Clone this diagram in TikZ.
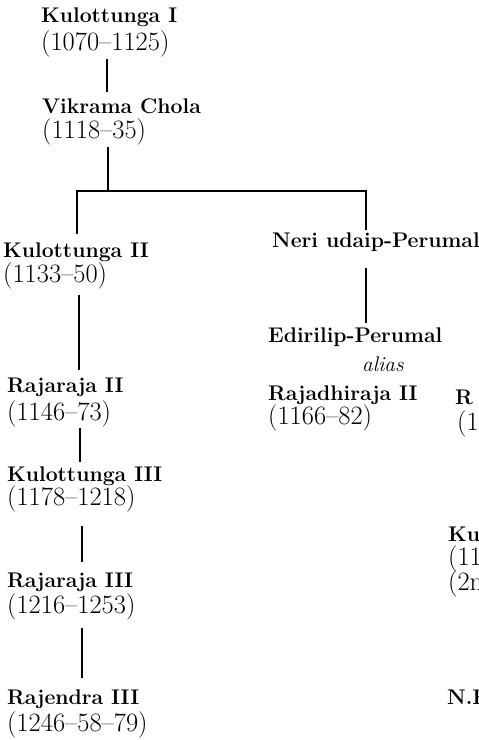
\documentclass[tikz,border=0pt]{standalone}
\usepackage{tikz}
\usetikzlibrary{positioning,calc}
\tikzset{
  % Ruler entry: name over dates
  RB/.style={inner sep=0pt,anchor=north west,align=left,
             font=\fontsize{21.2}{26}\selectfont},
  % Line of descent
  link/.style={line width=1.6pt}
}
\newcommand{\rname}[1]{\textbf{#1}}
\newcommand{\rdate}[1]{{\fontsize{26.5}{26}\selectfont #1}}
\begin{document}
\begin{tikzpicture}[x=1pt,y=-1pt]
  \path[use as bounding box,clip] (0,0) rectangle (479,740);
  \fill[white] (0,0) rectangle (479,740);
  % main line
  \node[RB] (k1) at (41,8) {\rname{Kulottunga I}\\[2pt]\rdate{(1070--1125)}};
  \node[RB] (vc) at (42,98) {\rname{Vikrama Chola}\\[-1pt]\rdate{(1118--35)}};
  \node[RB] (k2) at (3,243) {\rname{Kulottunga II}\\[-1pt]\rdate{(1133--50)}};
  \node[RB] (rr2) at (7,378) {\rname{Rajaraja II}\\[2pt]\rdate{(1146--73)}};
  \node[RB] (k3) at (7,467) {\rname{Kulottunga III}\\[-2pt]\rdate{(1178--1218)}};
  \node[RB] (rr3) at (7,573) {\rname{Rajaraja III}\\\rdate{(1216--1253)}};
  \node[RB] (r3) at (7,690) {\rname{Rajendra III}\\[1pt]\rdate{(1246--58--79)}};
  % second branch
  \node[RB] (neri) at (272,233) {\rname{Neri udaip-Perumal}};
  \node[RB,font=\fontsize{21.2}{29}\selectfont] (edir) at (268,328)
    {\rname{Edirilip-Perumal}\\\hspace*{94pt}\textit{alias}\\\rname{Rajadhiraja II}\\[-5pt]\rdate{(1166--82)}};
  % entries cut at the page edge
  \node[RB] (cutR) at (455,390) {\rname{R}\\[0pt]\hspace*{2pt}\rdate{(1}};
  \node[RB] (cutKu) at (448,527) {\rname{Ku}\\[-2pt]\rdate{(11}\\[-3pt]\rdate{(2n}};
  \node[RB] (cutN) at (447,690) {\rname{N.F}};
  % descent lines
  \draw[link,shorten <=1pt,shorten >=6pt]
    ([xshift=66pt]k1.south west) -- ([xshift=66pt]k1.south west |- vc.north);
  \coordinate (fork) at ([xshift=66pt,yshift=-46pt]vc.south west);
  \draw[link,shorten <=2pt] ([xshift=66pt]vc.south west) -- (fork);
  \draw[link,shorten >=9pt] (fork) -| ([xshift=74pt]k2.north west);
  \draw[link,shorten >=3pt] (fork) -| ([xshift=94pt]neri.north west);
  \draw[link,shorten <=5pt,shorten >=8pt]
    ([xshift=76pt]k2.south west) -- ([xshift=76pt]k2.south west |- rr2.north);
  \draw[link,shorten <=16pt,shorten >=5pt]
    ([xshift=94pt]neri.south west) -- ([xshift=94pt]neri.south west |- edir.north);
  \draw[link,shorten >=5pt]
    ([xshift=73pt]rr2.south west) -- ([xshift=73pt]rr2.south west |- k3.north);
  \draw[link,shorten <=13pt,shorten >=11pt]
    ([xshift=75pt]k3.south west) -- ([xshift=75pt]k3.south west |- rr3.north);
  \draw[link,shorten <=7pt,shorten >=12pt]
    ([xshift=75pt]rr3.south west) -- ([xshift=75pt]rr3.south west |- r3.north);
\end{tikzpicture}
\end{document}
